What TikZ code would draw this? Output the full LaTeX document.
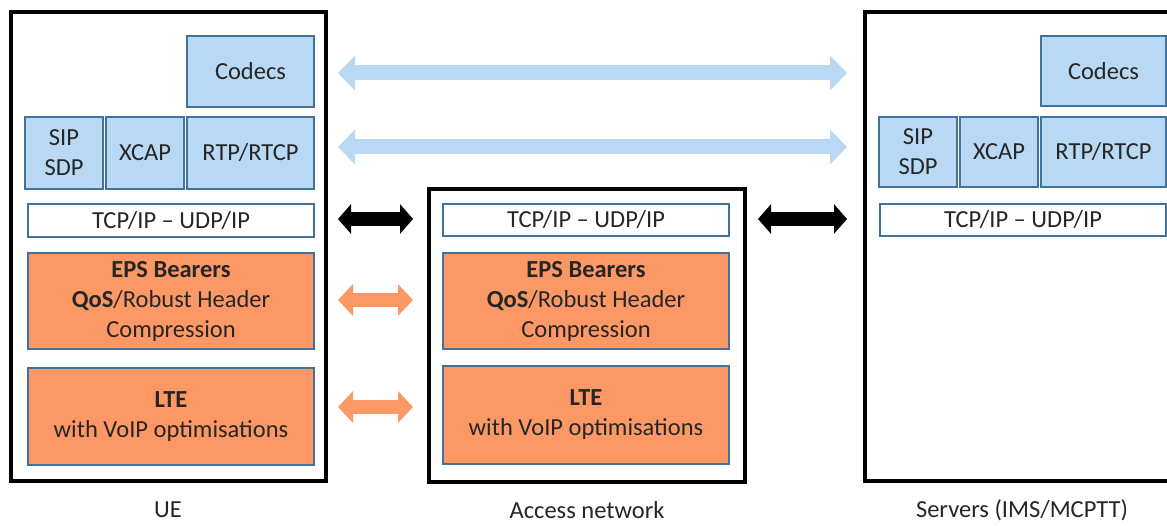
\documentclass[tikz,border=0pt]{standalone}
\usepackage{fontspec}
\setmainfont{Carlito}
\usetikzlibrary{arrows.meta}
\definecolor{lblue}{RGB}{184,216,243}
\definecolor{bedge}{RGB}{65,113,156}
\definecolor{orng}{RGB}{252,152,102}
\definecolor{txt}{RGB}{38,38,38}
\begin{document}
\begin{tikzpicture}[x=1pt,y=-1pt,
  outer/.style={draw=black, line width=4.5pt, inner sep=0pt, outer sep=0pt, anchor=north west},
  layer/.style={draw=bedge, line width=1.3pt, inner sep=0pt, outer sep=0pt, anchor=north west,
    align=center, font=\fontsize{24.5}{30}\selectfont, text=txt},
  bluebox/.style={layer, fill=lblue},
  whitebox/.style={layer, fill=white},
  orangebox/.style={layer, fill=orng},
  caption/.style={font=\fontsize{24.5}{30}\selectfont, text=txt},
  bluearrow/.style={draw=lblue, line width=15pt, {Triangle[length=17pt,width=34pt]}-{Triangle[length=17pt,width=34pt]}},
  blackarrow/.style={draw=black, line width=14pt, {Triangle[length=13pt,width=29pt]}-{Triangle[length=13pt,width=29pt]}},
  orangearrow/.style={draw=orng, line width=14pt, {Triangle[length=15pt,width=31pt]}-{Triangle[length=15pt,width=31pt]}}
]
\useasboundingbox (0,0) rectangle (1167,526);
\clip (0,0) rectangle (1167,526);
\fill[white] (0,0) rectangle (1167,526);

% outer boxes
\node[outer, minimum width=315pt, minimum height=469pt] (ue) at (11,12) {};
\node[outer, minimum width=316pt, minimum height=293pt] (acc) at (429,189) {};
\node[outer, minimum width=330pt, minimum height=469pt] (srv) at (865,12) {};

% UE stack
\node[bluebox, minimum width=127pt, minimum height=71pt] (codA) at (187,36) {Codecs};
\node[bluebox, minimum width=78pt, minimum height=72pt] (sipA) at (25,117) {SIP\\SDP};
\node[bluebox, minimum width=78pt, minimum height=72pt] (xcapA) at (106,117) {XCAP};
\node[bluebox, minimum width=127pt, minimum height=72pt] (rtpA) at (187,117) {RTP/RTCP};
\node[whitebox, minimum width=286pt, minimum height=33pt] (tcpA) at (28,204) {TCP/IP – UDP/IP};
\node[orangebox, minimum width=286pt, minimum height=96pt] (epsA) at (28,253) {\textbf{EPS Bearers}\\\textbf{QoS}/Robust Header\\Compression};
\node[orangebox, minimum width=286pt, minimum height=97pt] (lteA) at (28,368) {\textbf{LTE}\\with VoIP optimisations};

% Access network stack
\node[whitebox, minimum width=286pt, minimum height=32pt] (tcpB) at (443,204) {TCP/IP – UDP/IP};
\node[orangebox, minimum width=286pt, minimum height=96pt] (epsB) at (443,253) {\textbf{EPS Bearers}\\\textbf{QoS}/Robust Header\\Compression};
\node[orangebox, minimum width=286pt, minimum height=98pt] (lteB) at (443,366) {\textbf{LTE}\\with VoIP optimisations};

% Server stack
\node[bluebox, minimum width=125pt, minimum height=70pt] (codC) at (1041,36) {Codecs};
\node[bluebox, minimum width=78pt, minimum height=70pt] (sipC) at (879,117) {SIP\\SDP};
\node[bluebox, minimum width=78pt, minimum height=70pt] (xcapC) at (960,117) {XCAP};
\node[bluebox, minimum width=125pt, minimum height=70pt] (rtpC) at (1041,117) {RTP/RTCP};
\node[whitebox, minimum width=286pt, minimum height=32pt] (tcpC) at (880,204) {TCP/IP – UDP/IP};

% captions
\node[caption] (capUE) at (168,510) {UE};
\node[caption] (capAcc) at (587,510) {Access network};
\node[caption] (capSrv) at (1022,510) {Servers (IMS/MCPTT)};

% arrow end points
\coordinate (b1l) at (338,73);  \coordinate (b1r) at (847,73);
\coordinate (b2l) at (338,147); \coordinate (b2r) at (847,147);
\coordinate (k1l) at (338,219); \coordinate (k1r) at (413,219);
\coordinate (k2l) at (758,219); \coordinate (k2r) at (847,219);
\coordinate (o1l) at (338,300); \coordinate (o1r) at (413,300);
\coordinate (o2l) at (338,407); \coordinate (o2r) at (413,407);

\draw[bluearrow] (b1l) -- (b1r);
\draw[bluearrow] (b2l) -- (b2r);
\draw[blackarrow] (k1l) -- (k1r);
\draw[blackarrow] (k2l) -- (k2r);
\draw[orangearrow] (o1l) -- (o1r);
\draw[orangearrow] (o2l) -- (o2r);
\end{tikzpicture}
\end{document}
